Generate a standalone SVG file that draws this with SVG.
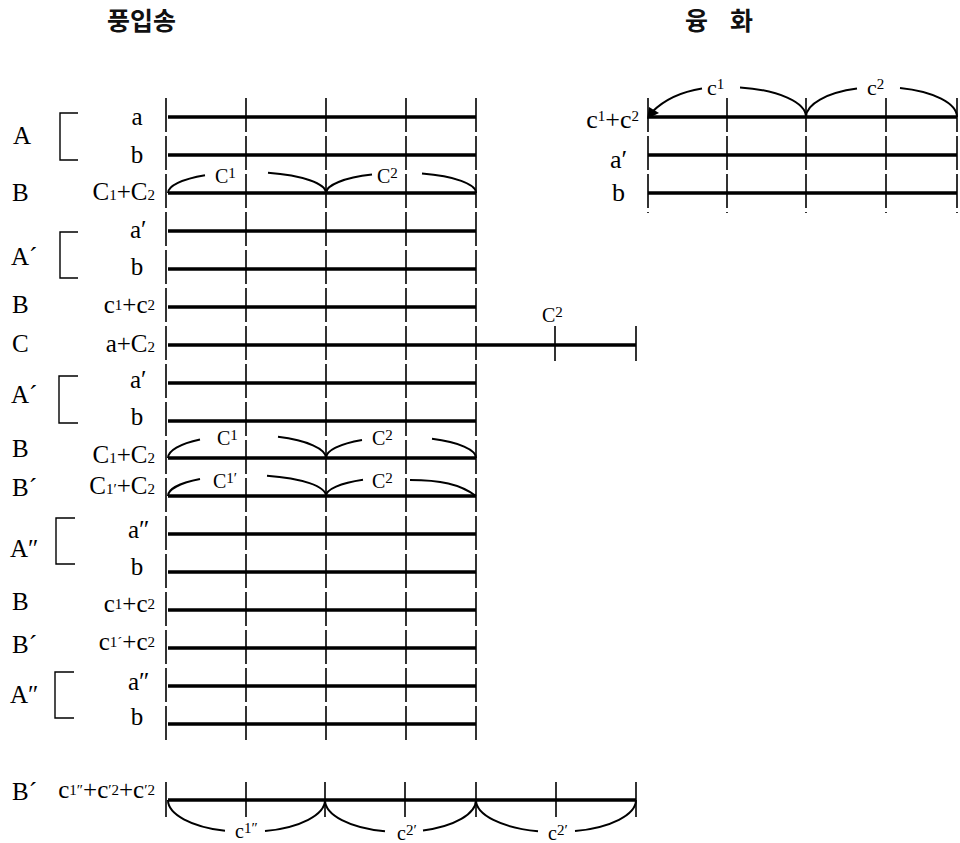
<svg xmlns="http://www.w3.org/2000/svg" width="960" height="843" viewBox="0 0 960 843">
<defs>
<style>
.t{font-family:"Liberation Serif","DejaVu Serif",serif;fill:#000}
.big{font-size:25px}
.lbl{font-size:25px}
.s{font-size:15px}
.arcl{font-size:20px}
.ko{font-family:"Noto Sans CJK KR","Noto Sans",sans-serif;font-weight:bold;font-size:25px;fill:#111}
.row{stroke:#000;stroke-width:3.5;fill:none}
.vt{stroke:#000;stroke-width:1.6;fill:none;stroke-dasharray:34 4}
.tk{stroke:#000;stroke-width:1.6;fill:none}
.arc{stroke:#000;stroke-width:2;fill:none}
.br{stroke:#000;stroke-width:1.4;fill:none}
</style>
</defs>
<rect width="960" height="843" fill="#fff"/>

<g id="titles">
<text class="ko" x="107" y="30">풍입송</text>
<text class="ko" x="685" y="30">융</text>
<text class="ko" x="730" y="30">화</text>
</g>

<g id="connectors">
<path class="vt" d="M166 98V741M246 98V741M326 98V741M406 98V741M476 98V741"/>
<path class="row" d="M168 117H476M168 155H476M168 193H476M168 231H476M168 269H476M168 307H476M168 345H636M168 383H476M168 421H476M168 458H476M168 496H476M168 534H476M168 572H476M168 610H476M168 648H476M168 686H476M168 724H476"/>
<path class="tk" d="M555 326V361M636 326V361"/>
<path class="arc" d="M168 193A79 21 0 0 1 205 175.2M268 172.8A79 21 0 0 1 326 193M326 193A75 20 0 0 1 372 174.6M422 173.6A75 20 0 0 1 476 193"/>
<path class="arc" d="M168 458A79 23 0 0 1 200 439.5M278 436.8A79 23 0 0 1 326 458M326 458A75 21 0 0 1 362 440M432 438.8A75 21 0 0 1 476 458"/>
<path class="arc" d="M168 496A79 21 0 0 1 200 479.1M267 475.7A79 21 0 0 1 326 496M326 496A75 19 0 0 1 363 479.8M410 480C440 480 460 484 476 496"/>
<path class="vt" d="M648 98V213M727 98V213M806 98V213M886 98V213M957 98V213"/>
<path class="row" d="M648 117H957M648 155H957M648 193H957"/>
<path class="arc" d="M652 112C664 100 680 92 702 88.5"/>
<polygon points="647,119 649,107 659,113" fill="#000"/>
<path class="arc" d="M740 87.4A79 30 0 0 1 806 117M806 117A75.5 30 0 0 1 857 88.6M900 87.9A75.5 30 0 0 1 957 117"/>
<path class="tk" d="M166 782V817M246 782V817M325 782V817M405 782V817M476 782V817M556 782V817M636 782V817"/>
<path class="row" d="M168 800H636"/>
<path class="arc" d="M168 800A78.5 32 0 0 0 225 830.8M265 831.1A78.5 32 0 0 0 325 800M325 800A75.5 32 0 0 0 385 831.3M423 830.5A75.5 32 0 0 0 476 800M476 800A80 32 0 0 0 538 831.2M575 831.1A80 32 0 0 0 636 800"/>
</g>

<g id="brackets">
<path class="br" d="M78 113H60V160H78"/>
<path class="br" d="M78 232H60V278H78"/>
<path class="br" d="M78 376H59V423H78"/>
<path class="br" d="M75 518H56V564H75"/>
<path class="br" d="M74 672H55V718H74"/>
</g>

<g id="section-labels">
<text class="t big" x="13" y="144">A</text>
<text class="t big" x="12" y="201">B</text>
<text class="t big" x="11" y="265">A´</text>
<text class="t big" x="12" y="313">B</text>
<text class="t big" x="12" y="352">C</text>
<text class="t big" x="11" y="403">A´</text>
<text class="t big" x="12" y="457">B</text>
<text class="t big" x="12" y="496">B´</text>
<text class="t big" x="10" y="557">A″</text>
<text class="t big" x="12" y="610">B</text>
<text class="t big" x="12" y="653">B´</text>
<text class="t big" x="10" y="703">A″</text>
<text class="t big" x="12" y="800">B´</text>
</g>

<g id="row-labels">
<text class="t lbl" x="137" y="125" text-anchor="middle">a</text>
<text class="t lbl" x="137" y="163" text-anchor="middle">b</text>
<text class="t lbl" x="155" y="200" text-anchor="end">C<tspan class="s">1</tspan>+C<tspan class="s">2</tspan></text>
<text class="t lbl" x="130" y="238">a′</text>
<text class="t lbl" x="137" y="275" text-anchor="middle">b</text>
<text class="t lbl" x="155" y="313" text-anchor="end">c<tspan class="s" dy="-3">1</tspan><tspan dy="3">+c</tspan><tspan class="s" dy="-3">2</tspan></text>
<text class="t lbl" x="155" y="352" text-anchor="end">a+C<tspan class="s">2</tspan></text>
<text class="t lbl" x="130" y="388">a′</text>
<text class="t lbl" x="137" y="425" text-anchor="middle">b</text>
<text class="t lbl" x="155" y="463" text-anchor="end">C<tspan class="s">1</tspan>+C<tspan class="s">2</tspan></text>
<text class="t lbl" x="155" y="494" text-anchor="end">C<tspan class="s">1′</tspan>+C<tspan class="s">2</tspan></text>
<text class="t lbl" x="128" y="538">a″</text>
<text class="t lbl" x="137" y="575" text-anchor="middle">b</text>
<text class="t lbl" x="155" y="612" text-anchor="end">c<tspan class="s" dy="-3">1</tspan><tspan dy="3">+c</tspan><tspan class="s" dy="-3">2</tspan></text>
<text class="t lbl" x="155" y="650" text-anchor="end">c<tspan class="s" dy="-3">1´</tspan><tspan dy="3">+c</tspan><tspan class="s" dy="-3">2</tspan></text>
<text class="t lbl" x="128" y="690">a″</text>
<text class="t lbl" x="137" y="725" text-anchor="middle">b</text>
<text class="t lbl" x="155" y="798" text-anchor="end">c<tspan class="s" dy="-3">1″</tspan><tspan dy="3">+c</tspan><tspan class="s" dy="-3">′2</tspan><tspan dy="3">+c</tspan><tspan class="s" dy="-3">′2</tspan></text>
</g>

<g id="arc-labels">
<text class="t arcl" x="215" y="183">C<tspan class="s" dy="-5">1</tspan></text>
<text class="t arcl" x="377" y="183">C<tspan class="s" dy="-5">2</tspan></text>
<text class="t arcl" x="542" y="322">C<tspan class="s" dy="-5">2</tspan></text>
<text class="t arcl" x="217" y="445">C<tspan class="s" dy="-5">1</tspan></text>
<text class="t arcl" x="372" y="445">C<tspan class="s" dy="-5">2</tspan></text>
<text class="t arcl" x="213" y="488">C<tspan class="s" dy="-5">1′</tspan></text>
<text class="t arcl" x="372" y="488">C<tspan class="s" dy="-5">2</tspan></text>
<text class="t arcl" x="235" y="838">c<tspan class="s" dy="-5">1″</tspan></text>
<text class="t arcl" x="397" y="840">c<tspan class="s" dy="-5">2′</tspan></text>
<text class="t arcl" x="548" y="840">c<tspan class="s" dy="-5">2′</tspan></text>
</g>

<g id="right-labels">
<text class="t" font-size="26" x="639" y="128" text-anchor="end">c<tspan class="s" dy="-7">1</tspan><tspan dy="7">+c</tspan><tspan class="s" dy="-7">2</tspan></text>
<text class="t" font-size="26" x="610" y="168">a′</text>
<text class="t" font-size="26" x="612" y="201">b</text>
<text class="t" font-size="22" x="707" y="95">c<tspan class="s" dy="-6">1</tspan></text>
<text class="t" font-size="22" x="867" y="95">c<tspan class="s" dy="-6">2</tspan></text>
</g>
</svg>
